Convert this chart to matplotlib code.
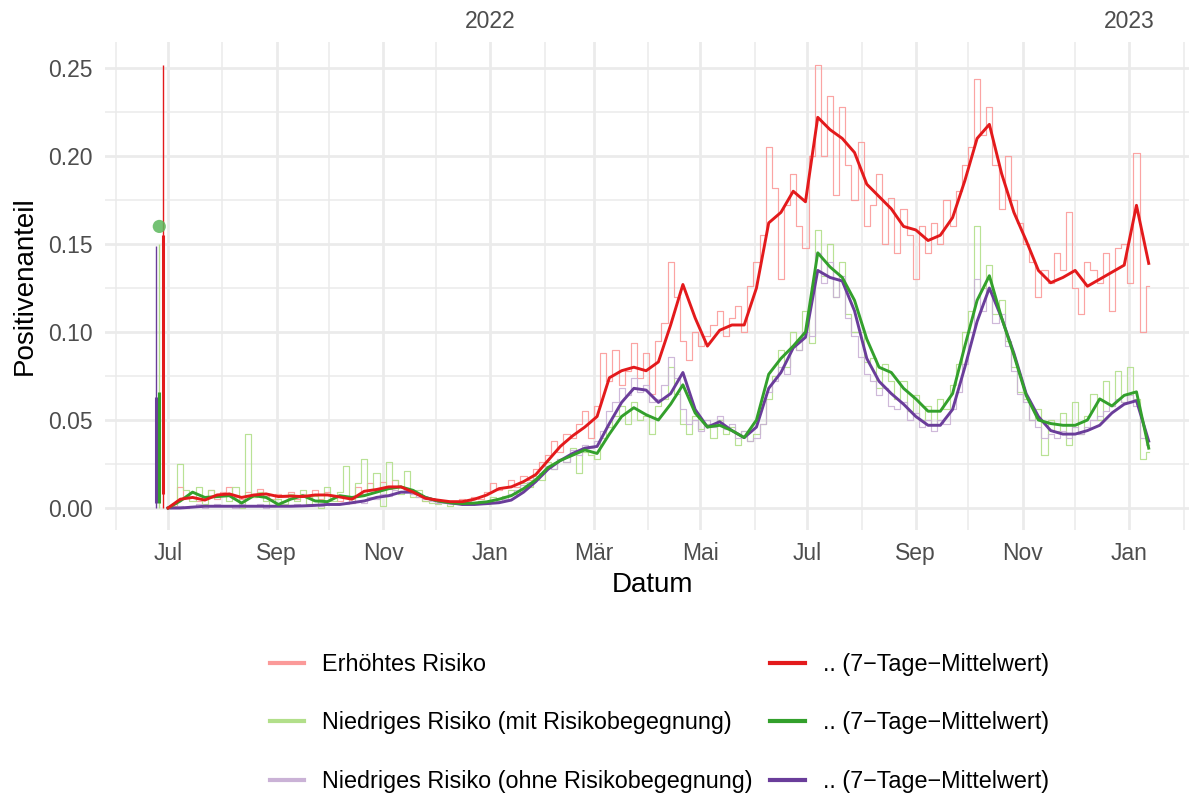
import numpy as np
import pandas as pd
import matplotlib
matplotlib.use("Agg")
import matplotlib.pyplot as plt
import matplotlib.dates as mdates
from matplotlib.lines import Line2D

plt.rcParams['font.family'] = ['Liberation Sans', 'DejaVu Sans']

# ---------------- data ----------------
# 7-day means, weekly from 2021-07-01
red_mean = [0.000, 0.005, 0.006, 0.0045, 0.0074, 0.008, 0.006, 0.0074, 0.008, 0.0065,
            0.0068, 0.0065, 0.0074, 0.0074, 0.0063, 0.005, 0.0095, 0.0105, 0.012, 0.012,
            0.009, 0.0055, 0.0045, 0.0036, 0.0036, 0.005, 0.0074, 0.011, 0.012, 0.015,
            0.019, 0.027, 0.035, 0.041, 0.046, 0.052, 0.074, 0.078, 0.080, 0.078,
            0.083, 0.104, 0.127, 0.108, 0.092, 0.101, 0.104, 0.104, 0.125, 0.162,
            0.168, 0.180, 0.174, 0.222, 0.215, 0.210, 0.202, 0.184, 0.177, 0.170,
            0.160, 0.158, 0.152, 0.155, 0.165, 0.186, 0.210, 0.218, 0.190, 0.168,
            0.152, 0.135, 0.128, 0.131, 0.135, 0.126, 0.130, 0.134, 0.138, 0.172,
            0.139]
green_mean = [0.000, 0.004, 0.009, 0.006, 0.0065, 0.007, 0.0028, 0.007, 0.006, 0.002,
              0.005, 0.007, 0.004, 0.0036, 0.007, 0.006, 0.007, 0.009, 0.011, 0.012,
              0.010, 0.006, 0.004, 0.003, 0.0025, 0.0028, 0.0035, 0.005, 0.007, 0.011,
              0.016, 0.023, 0.027, 0.030, 0.033, 0.031, 0.042, 0.052, 0.057, 0.053,
              0.050, 0.059, 0.070, 0.054, 0.046, 0.047, 0.044, 0.040, 0.050, 0.076,
              0.085, 0.092, 0.100, 0.145, 0.137, 0.131, 0.118, 0.096, 0.080, 0.077,
              0.068, 0.062, 0.055, 0.055, 0.065, 0.092, 0.118, 0.132, 0.108, 0.087,
              0.064, 0.050, 0.048, 0.047, 0.047, 0.050, 0.062, 0.058, 0.064, 0.066,
              0.034]
purple_mean = [0.000, 0.000, 0.0005, 0.001, 0.001, 0.001, 0.001, 0.001, 0.001, 0.001,
               0.001, 0.0012, 0.0015, 0.002, 0.002, 0.003, 0.004, 0.006, 0.007, 0.009,
               0.009, 0.006, 0.004, 0.003, 0.002, 0.002, 0.0025, 0.003, 0.0045, 0.009,
               0.015, 0.022, 0.027, 0.031, 0.034, 0.035, 0.048, 0.060, 0.068, 0.067,
               0.060, 0.065, 0.077, 0.056, 0.046, 0.049, 0.044, 0.040, 0.046, 0.068,
               0.077, 0.091, 0.097, 0.135, 0.131, 0.129, 0.112, 0.085, 0.072, 0.065,
               0.059, 0.052, 0.047, 0.047, 0.056, 0.080, 0.106, 0.125, 0.108, 0.088,
               0.065, 0.052, 0.044, 0.042, 0.042, 0.044, 0.047, 0.054, 0.059, 0.061,
               0.038]

# raw shares, every 3.5 days from 2021-07-01
red_raw = [0.000, 0.001, 0.012, 0.006, 0.009, 0.004, 0.006, 0.010, 0.005, 0.009,
           0.012, 0.006, 0.005, 0.009, 0.006, 0.011, 0.007, 0.005, 0.008, 0.006,
           0.009, 0.005, 0.008, 0.006, 0.010, 0.005, 0.009, 0.007, 0.004, 0.007,
           0.003, 0.012, 0.008, 0.014, 0.010, 0.015, 0.011, 0.016, 0.012, 0.010,
           0.008, 0.006, 0.004, 0.005, 0.003, 0.004, 0.004, 0.003, 0.005, 0.004,
           0.006, 0.005, 0.009, 0.014, 0.010, 0.012, 0.016, 0.012, 0.018, 0.016,
           0.022, 0.026, 0.030, 0.038, 0.032, 0.042, 0.040, 0.048, 0.055, 0.040,
           0.058, 0.088, 0.072, 0.090, 0.070, 0.078, 0.094, 0.074, 0.088, 0.065,
           0.095, 0.105, 0.140, 0.120, 0.095, 0.084, 0.100, 0.092, 0.098, 0.104,
           0.112, 0.098, 0.108, 0.115, 0.100, 0.126, 0.140, 0.155, 0.205, 0.182,
           0.130, 0.172, 0.190, 0.160, 0.148, 0.200, 0.252, 0.200, 0.234, 0.178,
           0.228, 0.195, 0.175, 0.208, 0.160, 0.172, 0.190, 0.150, 0.176, 0.145,
           0.170, 0.155, 0.130, 0.160, 0.145, 0.162, 0.150, 0.175, 0.160, 0.180,
           0.195, 0.205, 0.244, 0.212, 0.228, 0.195, 0.170, 0.200, 0.175, 0.162,
           0.150, 0.140, 0.120, 0.135, 0.128, 0.145, 0.135, 0.168, 0.125, 0.110,
           0.140, 0.135, 0.128, 0.145, 0.112, 0.148, 0.150, 0.128, 0.202, 0.100,
           0.126]
green_raw = [0.000, 0.002, 0.025, 0.010, 0.004, 0.012, 0.002, 0.010, 0.006, 0.008,
             0.004, 0.012, 0.000, 0.042, 0.006, 0.009, 0.004, 0.001, 0.005, 0.002,
             0.008, 0.004, 0.010, 0.002, 0.007, 0.000, 0.012, 0.004, 0.009, 0.024,
             0.005, 0.014, 0.028, 0.010, 0.020, 0.001, 0.026, 0.016, 0.008, 0.021,
             0.006, 0.010, 0.004, 0.003, 0.002, 0.004, 0.001, 0.003, 0.002, 0.003,
             0.003, 0.004, 0.002, 0.006, 0.004, 0.007, 0.010, 0.008, 0.014, 0.012,
             0.018, 0.016, 0.026, 0.022, 0.028, 0.026, 0.034, 0.020, 0.032, 0.030,
             0.028, 0.040, 0.046, 0.052, 0.058, 0.048, 0.060, 0.050, 0.052, 0.042,
             0.058, 0.062, 0.080, 0.065, 0.048, 0.042, 0.052, 0.045, 0.048, 0.040,
             0.050, 0.042, 0.046, 0.036, 0.044, 0.038, 0.042, 0.048, 0.062, 0.075,
             0.090, 0.080, 0.100, 0.090, 0.112, 0.094, 0.158, 0.132, 0.150, 0.120,
             0.140, 0.110, 0.100, 0.100, 0.083, 0.085, 0.068, 0.082, 0.072, 0.062,
             0.072, 0.055, 0.064, 0.050, 0.058, 0.048, 0.062, 0.056, 0.070, 0.082,
             0.100, 0.112, 0.160, 0.125, 0.138, 0.110, 0.118, 0.095, 0.080, 0.066,
             0.062, 0.050, 0.056, 0.030, 0.050, 0.044, 0.054, 0.036, 0.060, 0.042,
             0.052, 0.065, 0.050, 0.072, 0.058, 0.078, 0.060, 0.080, 0.062, 0.028,
             0.032]
purple_raw = [0.000, 0.000, 0.001, 0.000, 0.001, 0.002, 0.000, 0.001, 0.002, 0.001,
              0.001, 0.000, 0.002, 0.001, 0.001, 0.002, 0.000, 0.001, 0.002, 0.001,
              0.001, 0.002, 0.001, 0.001, 0.002, 0.001, 0.002, 0.002, 0.003, 0.002,
              0.003, 0.004, 0.003, 0.006, 0.005, 0.008, 0.007, 0.010, 0.009, 0.010,
              0.008, 0.006, 0.005, 0.004, 0.003, 0.003, 0.002, 0.002, 0.002, 0.002,
              0.002, 0.003, 0.003, 0.003, 0.004, 0.005, 0.008, 0.010, 0.013, 0.015,
              0.017, 0.020, 0.024, 0.022, 0.028, 0.026, 0.033, 0.030, 0.036, 0.034,
              0.038, 0.044, 0.055, 0.060, 0.068, 0.064, 0.074, 0.066, 0.070, 0.060,
              0.062, 0.070, 0.086, 0.074, 0.056, 0.048, 0.050, 0.044, 0.050, 0.046,
              0.052, 0.045, 0.048, 0.040, 0.044, 0.038, 0.040, 0.048, 0.066, 0.072,
              0.080, 0.076, 0.092, 0.090, 0.100, 0.098, 0.145, 0.128, 0.140, 0.120,
              0.132, 0.108, 0.098, 0.086, 0.076, 0.072, 0.064, 0.068, 0.058, 0.056,
              0.060, 0.050, 0.054, 0.046, 0.050, 0.044, 0.050, 0.048, 0.056, 0.066,
              0.082, 0.100, 0.130, 0.112, 0.125, 0.105, 0.110, 0.092, 0.078, 0.065,
              0.060, 0.050, 0.046, 0.040, 0.042, 0.040, 0.044, 0.040, 0.046, 0.042,
              0.046, 0.050, 0.052, 0.055, 0.058, 0.062, 0.060, 0.064, 0.058, 0.040,
              0.036]

# initial outlier days (purple, green, red)
spike_dates = ["2021-06-24", "2021-06-26", "2021-06-28"]
spike_raw = [0.149, 0.150, 0.252]
spike_mean_lo = [0.003, 0.003, 0.008]
spike_mean_hi = [0.063, 0.066, 0.155]
dot_date = "2021-06-26"
dot_value = 0.160

labels_raw = ["Erhöhtes Risiko",
              "Niedriges Risiko (mit Risikobegegnung)",
              "Niedriges Risiko (ohne Risikobegegnung)"]
label_mean = ".. (7\u2212Tage\u2212Mittelwert)"
month_labels = ["Jul", "Sep", "Nov", "Jan", "Mär", "Mai", "Jul", "Sep", "Nov", "Jan"]
year_labels = ["2022", "2023"]

# ---------------- styling ----------------
c_raw = ["#fb9a99", "#b2df8a", "#cab2d6"]
c_mean = ["#e31a1c", "#33a02c", "#6a3d9a"]
grid_c = "#ebebeb"
text_c = "#4d4d4d"

W, H = 1189, 794
fig = plt.figure(figsize=(W / 100, H / 100), dpi=100)
L, R, T, B = 105, 1189, 42, 530
ax = fig.add_axes([L / W, 1 - B / H, (R - L) / W, (B - T) / H])

wk = pd.date_range("2021-07-01", periods=len(red_mean), freq="7D")
rw = pd.date_range("2021-07-01", periods=len(red_raw), freq="84h")

# raw lines
for vals, c in zip([red_raw, green_raw, purple_raw], c_raw):
    ax.plot(rw, vals, drawstyle="steps-mid", color=c, lw=0.85, alpha=0.9, zorder=2)

sd = pd.to_datetime(spike_dates)
ax.vlines(sd, 0, spike_raw, colors=[c_mean[2], c_raw[1], c_mean[0]], lw=1.0, zorder=2)
ax.vlines(sd, spike_mean_lo, spike_mean_hi, colors=[c_mean[2], c_mean[1], c_mean[0]],
          lw=2.2, zorder=3)
ax.scatter(pd.to_datetime([dot_date]), [dot_value], s=90, color="#5cb85c", alpha=0.85,
           edgecolors="none", zorder=4)

# 7-day means
for vals, c in zip([purple_mean, green_mean, red_mean], [c_mean[2], c_mean[1], c_mean[0]]):
    ax.plot(wk, vals, color=c, lw=2.1, zorder=3, solid_joinstyle="round")

base = pd.Timestamp("2021-07-01")
ax.set_xlim(base - pd.Timedelta(days=36), base + pd.Timedelta(days=583))
ax.set_ylim(-0.0125, 0.2648)

major_x = pd.date_range("2021-07-01", "2023-01-01", freq="2MS")
minor_x = pd.date_range("2021-06-01", "2023-02-01", freq="2MS")
ax.set_xticks(major_x)
ax.set_xticklabels(month_labels)
ax.set_xticks(minor_x, minor=True)
ax.set_yticks([0.0, 0.05, 0.10, 0.15, 0.20, 0.25])
ax.set_yticklabels(["0.00", "0.05", "0.10", "0.15", "0.20", "0.25"])
ax.set_yticks([0.025, 0.075, 0.125, 0.175, 0.225], minor=True)

ax.grid(which="major", color=grid_c, lw=2.0, zorder=0)
ax.grid(which="minor", color=grid_c, lw=1.1, zorder=0)
ax.set_axisbelow(True)
for s in ax.spines.values():
    s.set_visible(False)
ax.tick_params(which="both", length=0)
ax.tick_params(axis="x", pad=8.5, labelsize=16.5, labelcolor=text_c)
ax.tick_params(axis="y", pad=9, labelsize=16.5, labelcolor=text_c)

sec = ax.secondary_xaxis("top")
sec.set_xticks(pd.to_datetime(["2022-01-01", "2023-01-01"]))
sec.set_xticklabels(year_labels)
sec.tick_params(length=0, pad=6.5, labelsize=16.5, labelcolor=text_c)
for s in sec.spines.values():
    s.set_visible(False)

ax.set_xlabel("Datum", fontsize=20, color="black")
ax.xaxis.set_label_coords(0.505, -0.086)
ax.set_ylabel("Positivenanteil", fontsize=20, color="black")
ax.yaxis.set_label_coords(-0.062, 0.5)

handles = [Line2D([], [], color=c, lw=3) for c in c_raw] + \
          [Line2D([], [], color=c, lw=3) for c in c_mean]
labels = labels_raw + [label_mean] * 3
fig.legend(handles, labels, ncol=2, loc="center", bbox_to_anchor=(0.5545, 0.0895),
           frameon=False, fontsize=16.8, handlelength=1.48, handletextpad=0.76,
           columnspacing=0.76, labelspacing=1.53)

fig.savefig("out.png", dpi=100)
